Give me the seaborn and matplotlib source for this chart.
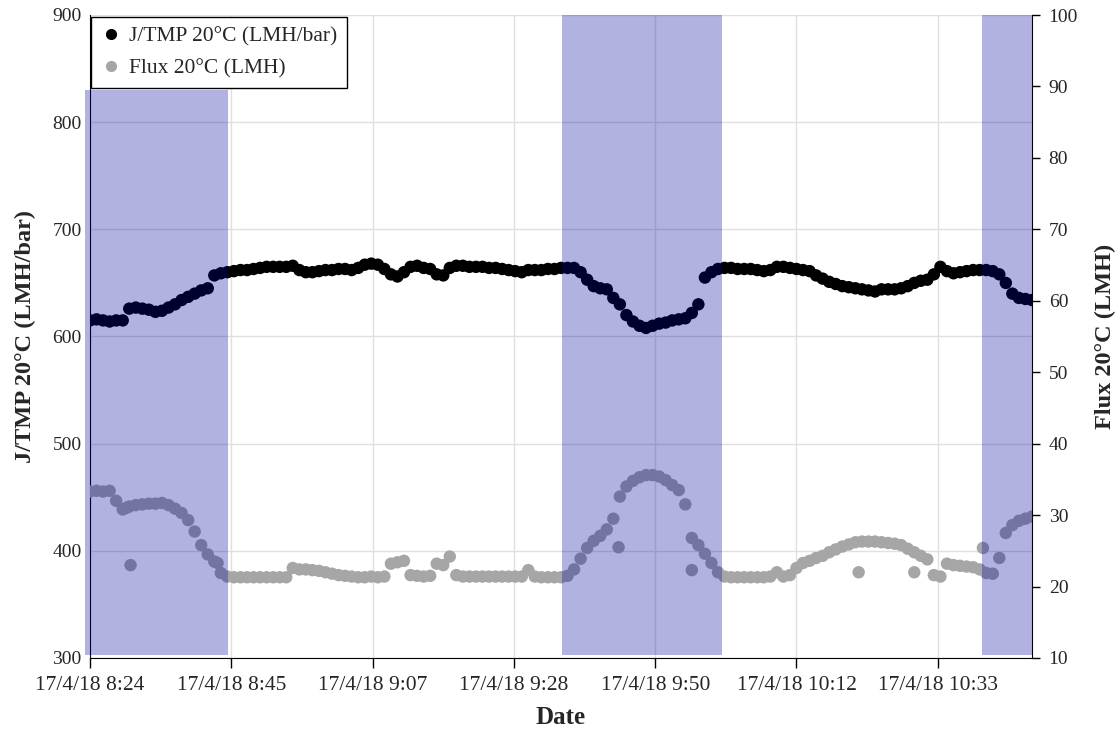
import numpy as np
import pandas as pd
import matplotlib
matplotlib.use('Agg')
import matplotlib.pyplot as plt
from matplotlib.patches import Rectangle
import seaborn as sns

# minutes after 17/4/18 8:24, one reading per minute
minutes = list(range(0, 145))

jtmp = [615, 616, 615, 614, 615, 615, 626, 627, 626, 625,
        623, 624, 627, 630, 634, 637, 640, 643, 645, 657,
        659, 660, 661, 662, 662, 663, 664, 665, 665, 665,
        665, 666, 662, 660, 660, 661, 662, 662, 663, 663,
        662, 664, 667, 668, 667, 663, 658, 656, 660, 665,
        666, 664, 663, 658, 657, 664, 666, 666, 665, 665,
        665, 664, 664, 663, 662, 661, 660, 662, 662, 662,
        663, 663, 664, 664, 664, 660, 653, 647, 645, 644,
        636, 630, 620, 614, 610, 608, 610, 612, 613, 615,
        616, 617, 622, 630, 655, 660, 663, 664, 664, 663,
        663, 663, 662, 661, 662, 665, 665, 664, 663, 662,
        661, 657, 654, 651, 649, 647, 646, 645, 644, 643,
        642, 644, 644, 644, 645, 647, 650, 652, 653, 658,
        665, 661, 659, 660, 661, 662, 662, 662, 661, 658,
        650, 640, 636, 635, 634]

flux = [33.3, 33.4, 33.3, 33.4, 32.0, 30.8, 31.2, 31.4, 31.5, 31.6,
        31.6, 31.7, 31.4, 30.9, 30.3, 29.3, 27.7, 25.8, 24.5, 23.5,
        21.9, 21.4, 21.3, 21.3, 21.3, 21.3, 21.3, 21.3, 21.3, 21.3,
        21.3, 22.6, 22.4, 22.4, 22.3, 22.2, 22.0, 21.8, 21.6, 21.5,
        21.4, 21.3, 21.3, 21.4, 21.3, 21.4, 23.2, 23.4, 23.6, 21.6,
        21.5, 21.4, 21.5, 23.2, 23.0, 24.2, 21.6, 21.4, 21.4, 21.4,
        21.4, 21.4, 21.4, 21.4, 21.4, 21.4, 21.4, 22.3, 21.4, 21.3,
        21.3, 21.3, 21.3, 21.5, 22.4, 23.9, 25.4, 26.4, 27.1, 28.0,
        29.5, 32.6, 34.0, 34.8, 35.3, 35.6, 35.6, 35.4, 34.9, 34.2,
        33.5, 31.5, 26.8, 25.8, 24.6, 23.3, 22.0, 21.4, 21.3, 21.3,
        21.3, 21.3, 21.3, 21.3, 21.4, 22.0, 21.4, 21.6, 22.6, 23.3,
        23.6, 24.0, 24.3, 24.8, 25.2, 25.6, 25.9, 26.2, 26.3, 26.3,
        26.3, 26.2, 26.1, 26.0, 25.8, 25.3, 24.8, 24.3, 23.8, 21.6,
        21.4, 23.2, 23.0, 22.9, 22.8, 22.7, 22.4, 21.9, 21.8, 24.0,
        27.5, 28.6, 29.2, 29.5, 29.8]

# stray flux readings
flux_extra_min = [5.5, 6.2, 19.5, 80.8, 92.0, 117.5, 126.0, 136.5]
flux_extra = [31.0, 23.0, 23.3, 25.5, 22.3, 22.0, 22.0, 25.4]

tick_min = [0, 21.6, 43.2, 64.8, 86.4, 108.0, 129.6]
tick_labels = ['17/4/18 8:24', '17/4/18 8:45', '17/4/18 9:07', '17/4/18 9:28',
               '17/4/18 9:50', '17/4/18 10:12', '17/4/18 10:33']

# backwash periods (start, end in minutes, top on flux axis)
shade_start = [-0.76, 72.2, 136.4]
shade_end = [21.1, 96.6, 144.0]
shade_top = [89.5, 100, 100]

df_j = pd.DataFrame({'t': minutes, 'v': jtmp})
df_f = pd.DataFrame({'t': minutes + flux_extra_min, 'v': flux + flux_extra})

sns.set_style('white')
plt.rcParams['font.family'] = ['Liberation Serif', 'DejaVu Serif']

fig = plt.figure(figsize=(11.19, 7.29), dpi=100)
ax = fig.add_axes([90/1119, 1-658/729, (1032-90)/1119, (658-15)/729])

sns.scatterplot(data=df_j, x='t', y='v', ax=ax, color='black', s=80,
                edgecolor='none', legend=False)
ax.set_xlim(0, 144)
ax.set_ylim(300, 900)
ax.set_yticks(range(300, 901, 100))
ax.set_xticks(tick_min)
ax.set_xticklabels(tick_labels)
ax.grid(True, color='#e0e0e0', lw=1)
ax.set_axisbelow(True)
ax.tick_params(axis='y', length=0, labelsize=14, pad=6)
ax.tick_params(axis='x', length=7, width=1, direction='out', labelsize=15.5,
               color='black', bottom=True, pad=6)
ax.set_xlabel('Date', fontsize=18, fontweight='bold', labelpad=8)
ax.set_ylabel('J/TMP 20°C (LMH/bar)', fontsize=17.5, fontweight='bold', labelpad=12)
for s in ['top', 'right']:
    ax.spines[s].set_visible(False)
ax.spines['left'].set_color('black')
ax.spines['bottom'].set_color('black')

ax2 = ax.twinx()
sns.scatterplot(data=df_f, x='t', y='v', ax=ax2, color='#a6a6a6', s=80,
                edgecolor='none', legend=False)
ax2.set_ylim(10, 100)
ax2.set_yticks(range(10, 101, 10))
ax2.set_ylabel('Flux 20°C (LMH)', fontsize=17.5, fontweight='bold', labelpad=12)
ax2.tick_params(axis='y', length=6, width=1, direction='out', labelsize=14,
                color='black', right=True, pad=6)
for s in ['top', 'left', 'bottom']:
    ax2.spines[s].set_visible(False)
ax2.spines['right'].set_color('black')

for x0, x1, top in zip(shade_start, shade_end, shade_top):
    ax2.add_patch(Rectangle((x0, 10.4), x1 - x0, top - 10.4, facecolor='#0000a0',
                            alpha=0.3, edgecolor='none', zorder=3, clip_on=False))

handles = [plt.Line2D([], [], marker='o', ls='', color='black', markersize=7),
           plt.Line2D([], [], marker='o', ls='', color='#a6a6a6', markersize=7)]
leg = ax2.legend(handles, ['J/TMP 20°C (LMH/bar)', 'Flux 20°C (LMH)'],
                 loc='upper left', bbox_to_anchor=(0.001, 0.997), borderaxespad=0,
                 fontsize=15.5, frameon=True, fancybox=False, edgecolor='black',
                 framealpha=1, handletextpad=0.3, handlelength=1.0, borderpad=0.45,
                 labelspacing=0.55)
leg.get_frame().set_linewidth(1.0)
leg.set_zorder(5)

fig.savefig('out.png', dpi=100)
